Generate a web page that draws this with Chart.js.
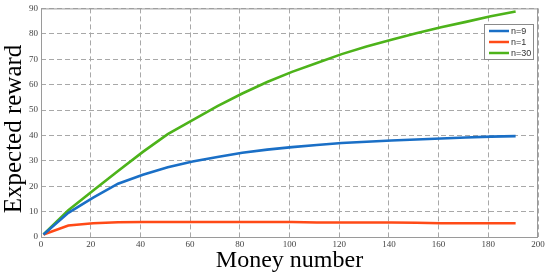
<!DOCTYPE html>
<html>
<head>
<meta charset="utf-8">
<script src="https://cdn.jsdelivr.net/npm/chart.js@4"></script>
<style>
  html, body { margin: 0; padding: 0; background: #fff; }
  #wrap { width: 550px; height: 276px; }
</style>
</head>
<body>
<div id="wrap"><canvas id="canvas" width="550" height="276"></canvas></div>
<script>
// money numbers sampled every 10
var moneyNumber = [1, 11, 21, 31, 41, 51, 61, 71, 81, 91, 101, 111, 121, 131, 141, 151, 161, 171, 181, 191];
var rewardN9 = [1, 9.5, 15.5, 21, 24.5, 27.5, 29.7, 31.5, 33.2, 34.4, 35.4, 36.2, 37, 37.5, 38, 38.4, 38.8, 39.2, 39.5, 39.7];
var rewardN1 = [1, 4.5, 5.4, 5.8, 5.9, 5.9, 5.9, 5.9, 5.9, 5.9, 5.9, 5.7, 5.7, 5.7, 5.7, 5.6, 5.4, 5.4, 5.4, 5.4];
var rewardN30 = [1, 10.5, 18.3, 26, 33.5, 40.5, 46, 51.5, 56.5, 61, 65, 68.5, 72, 75, 77.7, 80.2, 82.6, 84.7, 86.9, 88.8];
var seriesNames = ['n=9', 'n=1', 'n=30'];

var colors = ['#1a6fc6', '#ff4a17', '#4db31a'];

function toPoints(ys) {
	return moneyNumber.map(function(x, i) { return {x: x, y: ys[i]}; });
}

// box round the plot area, like matlab's axes box
var boxPlugin = {
	id: 'box',
	afterDatasetsDraw: function(chart) {
		var a = chart.chartArea, c = chart.ctx;
		c.save();
		c.strokeStyle = '#9a9a9a';
		c.lineWidth = 1;
		c.strokeRect(a.left + 0.5, a.top + 0.5, a.right - a.left - 1, a.bottom - a.top);
		c.restore();
	}
};

// y title, drawn by hand so it sits a bit lower than the axis centre
var yTitle = {
	id: 'yTitle',
	afterDraw: function(chart) {
		var c = chart.ctx;
		c.save();
		c.translate(14, 129);
		c.rotate(-Math.PI / 2);
		c.font = '25px "Liberation Serif", "Times New Roman", serif';
		c.fillStyle = '#000';
		c.textAlign = 'center';
		c.textBaseline = 'middle';
		c.fillText('Expected reward', 0, 0);
		c.restore();
	}
};

// legend drawn inside the axes, top right
var insideLegend = {
	id: 'insideLegend',
	afterDraw: function(chart) {
		var c = chart.ctx;
		var x = 484, y = 24, w = 49, h = 35;
		c.save();
		c.fillStyle = '#fff';
		c.fillRect(x, y, w, h);
		c.strokeStyle = '#8a8a8a';
		c.lineWidth = 1;
		c.strokeRect(x + 0.5, y + 0.5, w, h);
		c.font = '9px "Liberation Sans", Arial, sans-serif';
		c.textBaseline = 'middle';
		chart.data.datasets.forEach(function(ds, i) {
			var ly = y + 7 + i * 11;
			c.strokeStyle = ds.borderColor;
			c.lineWidth = 2.5;
			c.beginPath();
			c.moveTo(x + 5, ly);
			c.lineTo(x + 25, ly);
			c.stroke();
			c.fillStyle = '#333';
			c.fillText(ds.label, x + 27, ly + 1);
		});
		c.restore();
	}
};

var tickFont = {family: '"Liberation Serif", "Times New Roman", serif', size: 9};
var titleFont = {family: '"Liberation Serif", "Times New Roman", serif', size: 24};

window.onload = function() {
	var ctx = document.getElementById('canvas').getContext('2d');
	window.myLine = new Chart(ctx, {
		type: 'line',
		data: {
			datasets: [
				{label: seriesNames[0], data: toPoints(rewardN9), borderColor: colors[0], backgroundColor: colors[0]},
				{label: seriesNames[1], data: toPoints(rewardN1), borderColor: colors[1], backgroundColor: colors[1]},
				{label: seriesNames[2], data: toPoints(rewardN30), borderColor: colors[2], backgroundColor: colors[2]}
			]
		},
		options: {
			responsive: false,
			animation: false,
			layout: {padding: {top: 7, right: 12, left: 0, bottom: 0}},
			elements: {
				line: {borderWidth: 2.6, tension: 0},
				point: {radius: 0}
			},
			plugins: {
				legend: {display: false},
				tooltip: {enabled: false}
			},
			scales: {
				x: {
					type: 'linear',
					min: 0,
					max: 200,
					ticks: {stepSize: 20, font: tickFont, color: '#444', padding: 2, maxRotation: 0},
					grid: {color: '#a8a8a8', drawTicks: false},
					border: {display: false, dash: [5, 3]},
					title: {display: true, text: 'Money number', font: titleFont, color: '#000', padding: {top: 0, bottom: 1}},
					afterFit: function(scale) { scale.height = 39; }
				},
				y: {
					min: 0,
					max: 90,
					ticks: {stepSize: 10, font: tickFont, color: '#444', padding: 3},
					grid: {color: '#a8a8a8', drawTicks: false},
					border: {display: false, dash: [5, 3]},
					afterFit: function(scale) { scale.width = 41; }
				}
			}
		},
		plugins: [boxPlugin, insideLegend, yTitle]
	});
};
</script>
</body>
</html>
